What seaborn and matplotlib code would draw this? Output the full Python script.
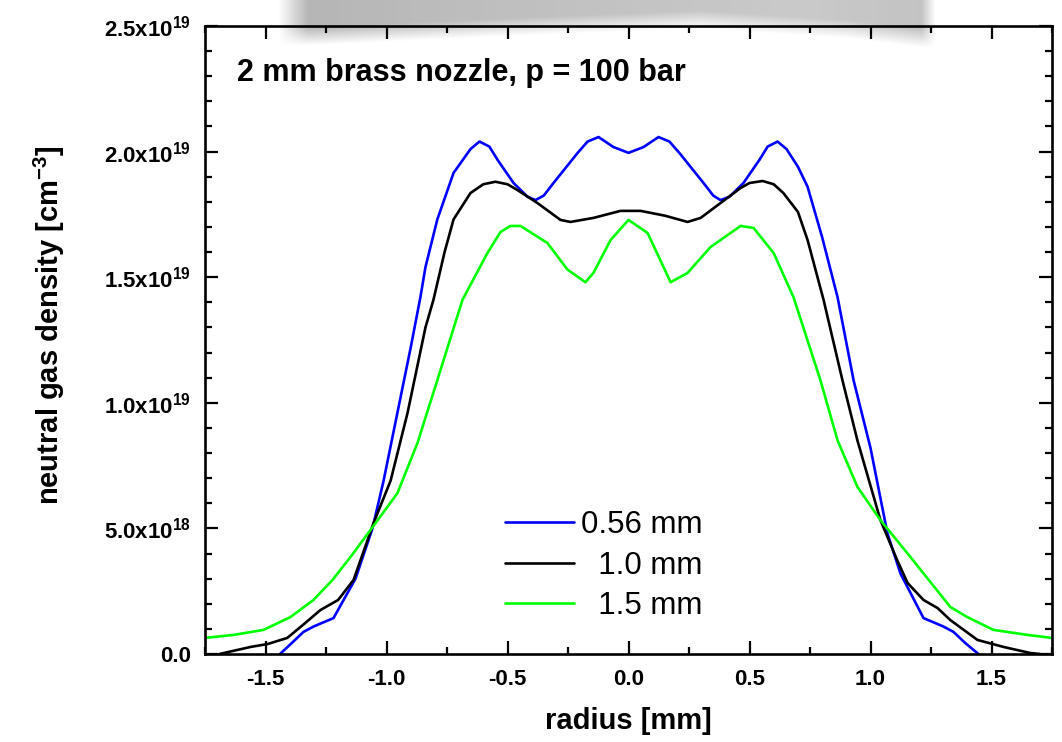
import numpy as np
import pandas as pd
import seaborn as sns
import matplotlib
matplotlib.use("Agg")
import matplotlib.pyplot as plt
from matplotlib.ticker import MultipleLocator, FixedLocator, FixedFormatter

# ---- data (density in units of 1e19 cm^-3) ----
x_056 = [-1.44, -1.39, -1.343, -1.30, -1.219, -1.128, -1.058, -1.012, -0.955, -0.90,
         -0.86, -0.839, -0.79, -0.723, -0.653, -0.616, -0.575, -0.541, -0.475, -0.417,
         -0.384, -0.35, -0.31, -0.21, -0.169, -0.124, -0.062, 0.0, 0.062, 0.124, 0.169,
         0.21, 0.31, 0.35, 0.38, 0.417, 0.475, 0.541, 0.575, 0.616, 0.653, 0.70, 0.74,
         0.80, 0.864, 0.93, 1.0, 1.07, 1.124, 1.219, 1.30, 1.343, 1.39, 1.446]
y_056 = [0.0, 0.045, 0.088, 0.11, 0.143, 0.30, 0.50, 0.69, 0.96, 1.22,
         1.42, 1.54, 1.73, 1.915, 2.01, 2.04, 2.02, 1.967, 1.875, 1.82,
         1.807, 1.825, 1.875, 1.995, 2.04, 2.058, 2.018, 1.995, 2.018, 2.058, 2.04,
         1.995, 1.875, 1.825, 1.807, 1.82, 1.875, 1.967, 2.02, 2.04, 2.01, 1.94, 1.86,
         1.66, 1.42, 1.09, 0.82, 0.48, 0.32, 0.143, 0.11, 0.088, 0.045, 0.0]

x_10 = [-1.69, -1.562, -1.49, -1.41, -1.34, -1.273, -1.2, -1.136, -1.054, -0.983,
        -0.913, -0.839, -0.806, -0.76, -0.723, -0.653, -0.60, -0.55, -0.50, -0.459,
        -0.376, -0.281, -0.24, -0.145, -0.033, 0.05, 0.15, 0.244, 0.298, 0.38, 0.463,
        0.50, 0.554, 0.60, 0.64, 0.70, 0.74, 0.806, 0.884, 0.946, 1.041, 1.11, 1.153,
        1.219, 1.277, 1.33, 1.442, 1.55, 1.66, 1.70]
y_10 = [0.0, 0.028, 0.04, 0.064, 0.12, 0.175, 0.215, 0.295, 0.52, 0.69,
        0.96, 1.30, 1.41, 1.60, 1.73, 1.835, 1.87, 1.88, 1.87, 1.847,
        1.795, 1.728, 1.72, 1.736, 1.764, 1.764, 1.745, 1.72, 1.736, 1.795, 1.855,
        1.875, 1.883, 1.87, 1.835, 1.76, 1.648, 1.41, 1.09, 0.85, 0.533, 0.374, 0.283,
        0.215, 0.183, 0.135, 0.056, 0.028, 0.004, 0.0]

x_15 = [-1.75, -1.632, -1.508, -1.397, -1.302, -1.223, -1.149, -1.066, -0.955, -0.872,
        -0.79, -0.686, -0.583, -0.529, -0.488, -0.446, -0.335, -0.252, -0.178, -0.145,
        -0.074, 0.0, 0.079, 0.174, 0.244, 0.339, 0.463, 0.517, 0.6, 0.682, 0.793,
        0.864, 0.946, 1.041, 1.165, 1.33, 1.4, 1.508, 1.649, 1.75]
y_15 = [0.064, 0.076, 0.096, 0.147, 0.215, 0.295, 0.386, 0.494, 0.64, 0.84,
        1.09, 1.41, 1.596, 1.68, 1.704, 1.704, 1.636, 1.53, 1.48, 1.517,
        1.648, 1.728, 1.676, 1.48, 1.517, 1.62, 1.704, 1.696, 1.596, 1.42, 1.09,
        0.85, 0.665, 0.533, 0.386, 0.187, 0.147, 0.096, 0.076, 0.064]

series_labels = ["0.56 mm", "  1.0 mm", "  1.5 mm"]
series_colors = ["#0000ff", "#000000", "#00ff00"]
x_ticks = [-1.5, -1.0, -0.5, 0.0, 0.5, 1.0, 1.5]
x_ticklabels = ["-1.5", "-1.0", "-0.5", "0.0", "0.5", "1.0", "1.5"]
y_ticks = [0.0, 0.5, 1.0, 1.5, 2.0, 2.5]
y_ticklabels = ["0.0", r"$\mathbf{5.0x10^{18}}$", r"$\mathbf{1.0x10^{19}}$",
                r"$\mathbf{1.5x10^{19}}$", r"$\mathbf{2.0x10^{19}}$", r"$\mathbf{2.5x10^{19}}$"]
title_text = "2 mm brass nozzle, p = 100 bar"

frames = []
for xs, ys, lab in [(x_056, y_056, series_labels[0]), (x_10, y_10, series_labels[1]),
                    (x_15, y_15, series_labels[2])]:
    frames.append(pd.DataFrame({"radius": xs, "density": ys, "series": lab}))
df = pd.concat(frames, ignore_index=True)

sns.set_theme(style="ticks")
plt.rcParams["font.family"] = ["Liberation Sans", "DejaVu Sans"]
plt.rcParams["mathtext.fontset"] = "custom"
plt.rcParams["mathtext.rm"] = "Liberation Sans"
plt.rcParams["mathtext.bf"] = "Liberation Sans:bold"
plt.rcParams["mathtext.it"] = "Liberation Sans:italic"
for k in ["text.color", "axes.labelcolor", "xtick.color", "ytick.color", "axes.edgecolor"]:
    plt.rcParams[k] = "black"

fig = plt.figure(figsize=(10.62, 7.42), dpi=100, facecolor="white")
ax = fig.add_axes([205 / 1062, 1 - 654 / 742, 847 / 1062, 628 / 742])
ax.set_facecolor("none")

# soft grey shadow artefact at top of reference picture
H, W = 60, 1062
yy, xx = np.mgrid[0:H, 0:W].astype(float)
bottom = np.interp(xx, [270, 330, 500, 700, 850, 930, 950], [46, 44, 36, 28, 38, 48, 48])
hmask = np.clip((xx - 278) / 30, 0, 1) * np.clip((935 - xx) / 14, 0, 1)
vmask = np.clip((bottom - yy) / 18, 0, 1)
dark = np.interp(xx, [280, 500, 800, 940], [0.42, 0.36, 0.30, 0.34])
alpha = hmask * vmask * dark
img = np.zeros((H, W, 4))
img[..., 0] = img[..., 1] = img[..., 2] = 0.3
img[..., 3] = alpha
fig.figimage(img, xo=0, yo=742 - H, origin="upper", zorder=-5)

sns.lineplot(data=df, x="radius", y="density", hue="series", palette=series_colors,
             sort=False, estimator=None, linewidth=1.9, ax=ax, legend=True)

ax.set_xlim(-1.75, 1.75)
ax.set_ylim(0, 2.5)
ax.xaxis.set_major_locator(FixedLocator(x_ticks))
ax.xaxis.set_major_formatter(FixedFormatter(x_ticklabels))
ax.xaxis.set_minor_locator(MultipleLocator(0.25))
ax.yaxis.set_major_locator(FixedLocator(y_ticks))
ax.yaxis.set_major_formatter(FixedFormatter(y_ticklabels))
ax.yaxis.set_minor_locator(MultipleLocator(0.1))

for s in ax.spines.values():
    s.set_visible(True)
    s.set_linewidth(1.9)
    s.set_color("black")
ax.tick_params(which="both", direction="in", top=True, right=True, color="black", width=1.6)
ax.tick_params(which="major", length=9.5)
ax.tick_params(which="minor", length=5)
ax.tick_params(axis="x", which="major", pad=11, labelsize=16)
ax.tick_params(axis="y", which="major", pad=10, labelsize=16)
for lab in ax.get_xticklabels() + ax.get_yticklabels():
    lab.set_fontweight("bold")

ax.set_xlabel("radius [mm]", fontsize=21, fontweight="bold", labelpad=12)
ax.set_ylabel(r"neutral gas density [cm$^{\mathbf{-3}}$]", fontsize=21, fontweight="bold")
ax.yaxis.set_label_coords(-0.163, 0.524)

ax.text(-1.616, 2.313, title_text, fontsize=22, fontweight="bold", ha="left", va="center")

handles, labels = ax.get_legend_handles_labels()
leg = ax.legend(handles, series_labels, loc="upper left", bbox_to_anchor=(0.354, 0.229),
                frameon=False, fontsize=22.5, handlelength=2.2, handletextpad=0.25,
                labelspacing=0.33, borderpad=0, borderaxespad=0)
for ln in leg.get_lines():
    ln.set_linewidth(1.9)

fig.savefig("out.png", dpi=100, facecolor="white")
